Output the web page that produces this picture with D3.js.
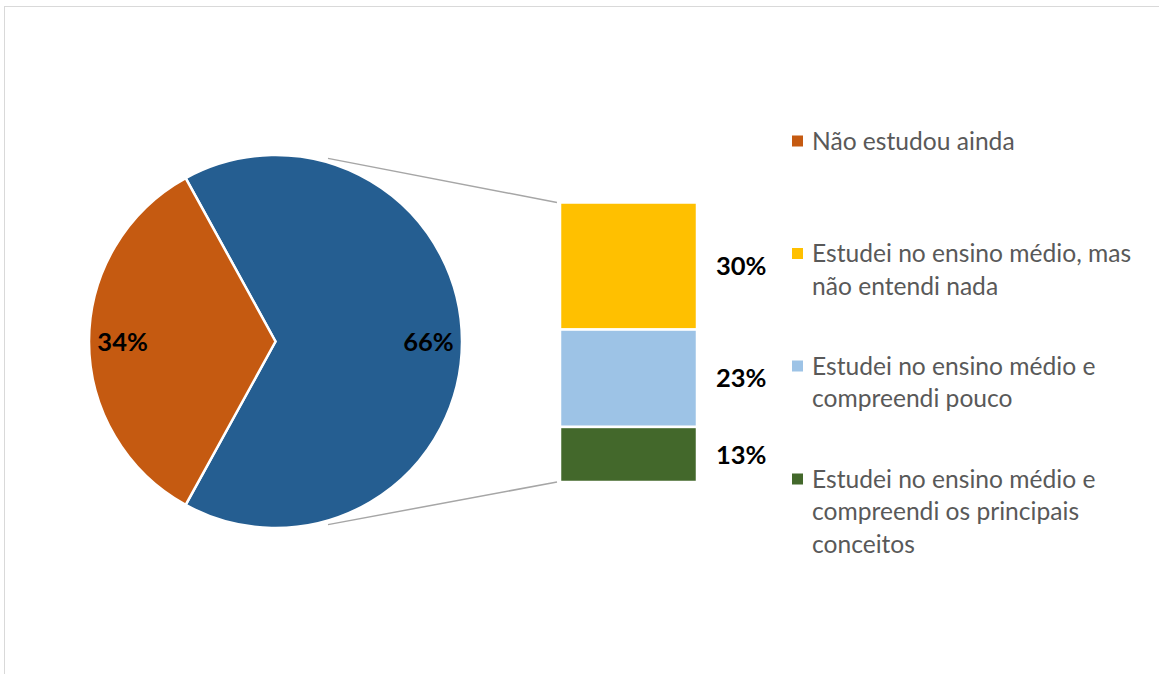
<!DOCTYPE html>
<html>
<head>
<meta charset="utf-8">
<script src="https://cdn.jsdelivr.net/npm/d3@7"></script>
<style>
  html, body { margin: 0; padding: 0; background: #fff; }
  svg { display: block; font-family: Lato, "Open Sans", sans-serif; }
</style>
</head>
<body>
<svg id="chart" width="1159" height="674"></svg>
<script>
// Response categories and their shares (%)
const categories = [
  "Não estudou ainda",
  "Estudei no ensino médio, mas não entendi nada",
  "Estudei no ensino médio e compreendi pouco",
  "Estudei no ensino médio e compreendi os principais conceitos"
];
const values = [34, 30, 23, 13];
const colors = ["#C55A11", "#FFC000", "#9DC3E6", "#43682B"];
const otherColor = "#255E91";

// Legend text, wrapped the way it is shown
const legendLines = [
  ["Não estudou ainda"],
  ["Estudei no ensino médio, mas", "não entendi nada"],
  ["Estudei no ensino médio e", "compreendi pouco"],
  ["Estudei no ensino médio e", "compreendi os principais", "conceitos"]
];

const svg = d3.select("#chart");

// Chart frame
svg.append("rect")
  .attr("x", 4.5).attr("y", 6.5)
  .attr("width", 1300).attr("height", 800)
  .attr("fill", "none").attr("stroke", "#D9D9D9").attr("stroke-width", 1);

// ---- Pie: first category vs. the rest (which is broken out into the bar) ----
const cx = 275.5, cy = 341.5, r = 186.5;
const total = d3.sum(values);
const restValues = values.slice(1);
const restTotal = d3.sum(restValues);
const pieData = [
  { key: "rest", value: restTotal, color: otherColor },
  { key: "main", value: values[0], color: colors[0] }
];
const frac = values[0] / total;
const start = -Math.PI / 2 + frac * Math.PI; // keeps the first slice centred on the left
const pie = d3.pie().sort(null).value(d => d.value)
  .startAngle(start).endAngle(start + 2 * Math.PI);
const arcs = pie(pieData);
const arc = d3.arc().innerRadius(0).outerRadius(r);
const labelArc = d3.arc().innerRadius(r * 0.82).outerRadius(r * 0.82);

const pieG = svg.append("g").attr("transform", `translate(${cx},${cy})`);
pieG.selectAll("path.slice").data(arcs).join("path")
  .attr("class", "slice")
  .attr("d", arc)
  .attr("fill", d => d.data.color)
  .attr("stroke", "#fff").attr("stroke-width", 2.5).attr("stroke-linejoin", "round");

pieG.selectAll("text.plabel").data(arcs).join("text")
  .attr("class", "plabel")
  .attr("transform", d => `translate(${labelArc.centroid(d)})`)
  .attr("text-anchor", "middle").attr("dy", "0.36em")
  .attr("font-size", 25.5).attr("font-weight", 700).attr("fill", "#000")
  .text(d => Math.round(d.data.value / total * 100) + "%");

// ---- Stacked bar for the broken-out categories ----
const barX = 560, barW = 137, barTop = 202.5, barBottom = 482;
const y = d3.scaleLinear().domain([0, restTotal]).range([barTop, barBottom]);
const stacked = [];
let acc = 0;
restValues.forEach((v, i) => {
  stacked.push({ v, y0: acc, y1: acc + v, color: colors[i + 1] });
  acc += v;
});

// Connector lines from the pie to the bar
const connAngle = 16 * Math.PI / 180;
const cr = r + 4;
svg.append("line")
  .attr("x1", cx + cr * Math.sin(connAngle)).attr("y1", cy - cr * Math.cos(connAngle))
  .attr("x2", barX - 3).attr("y2", y(0))
  .attr("stroke", "#A6A6A6").attr("stroke-width", 1.5);
svg.append("line")
  .attr("x1", cx + cr * Math.sin(connAngle)).attr("y1", cy + cr * Math.cos(connAngle))
  .attr("x2", barX - 3).attr("y2", y(restTotal))
  .attr("stroke", "#A6A6A6").attr("stroke-width", 1.5);

svg.selectAll("rect.seg").data(stacked).join("rect")
  .attr("class", "seg")
  .attr("x", barX).attr("width", barW)
  .attr("y", d => y(d.y0)).attr("height", d => y(d.y1) - y(d.y0))
  .attr("fill", d => d.color)
  .attr("stroke", "#fff").attr("stroke-width", 2.5);

svg.selectAll("text.blabel").data(stacked).join("text")
  .attr("class", "blabel")
  .attr("x", barX + barW + 19)
  .attr("y", d => (y(d.y0) + y(d.y1)) / 2)
  .attr("dy", "0.36em")
  .attr("font-size", 25.5).attr("font-weight", 700).attr("fill", "#000")
  .text(d => d.v + "%");

// ---- Legend ----
const legendY = [141, 253.5, 366, 479];
const lineH = 32.5;
const legend = svg.append("g");
categories.forEach((c, i) => {
  const g = legend.append("g").attr("transform", `translate(792,${legendY[i]})`);
  g.append("rect").attr("x", 0).attr("y", -5.5).attr("width", 11).attr("height", 11)
    .attr("fill", colors[i]);
  const t = g.append("text").attr("x", 20).attr("font-size", 24.6).attr("fill", "#595959");
  legendLines[i].forEach((line, j) => {
    t.append("tspan").attr("x", 20).attr("y", j * lineH).attr("dy", "0.36em").text(line);
  });
});
</script>
</body>
</html>
